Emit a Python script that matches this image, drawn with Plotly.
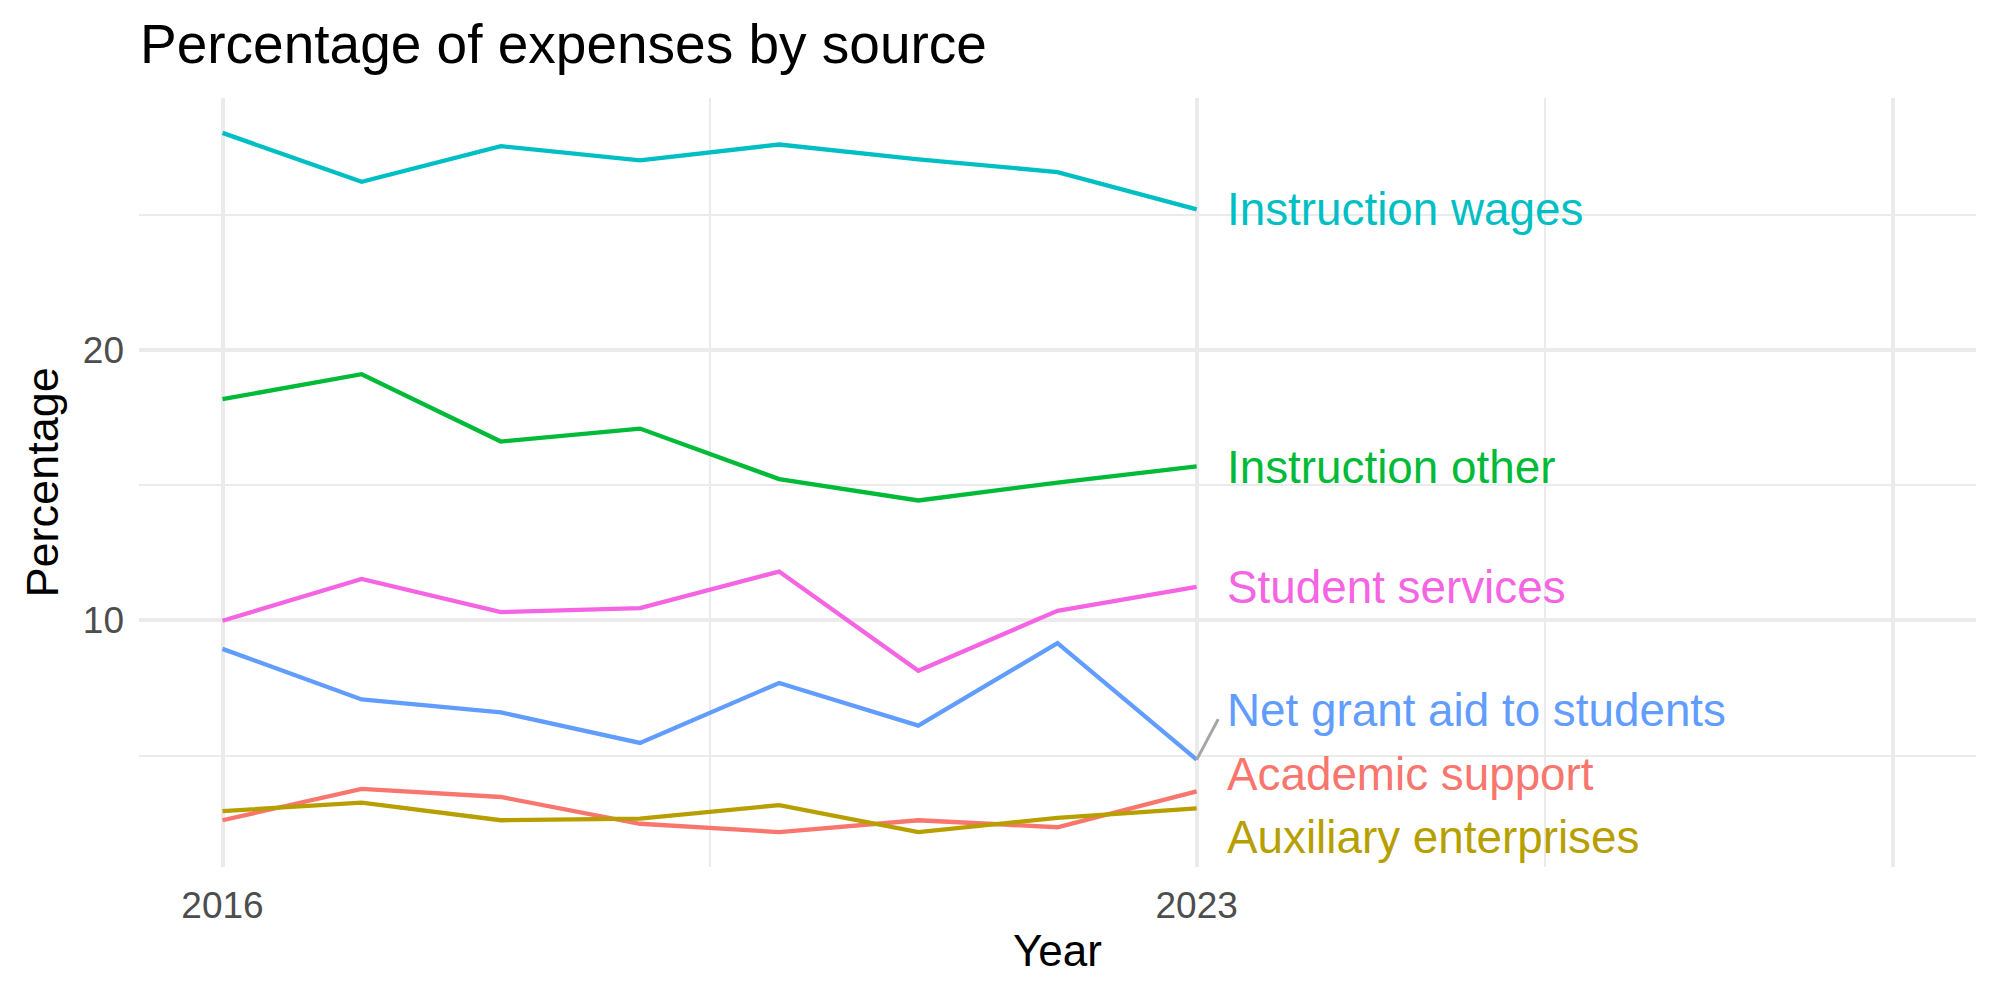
import plotly.graph_objects as go

years = [2016, 2017, 2018, 2019, 2020, 2021, 2022, 2023]

series_names = [
    "Academic support",
    "Auxiliary enterprises",
    "Instruction other",
    "Instruction wages",
    "Net grant aid to students",
    "Student services",
]
academic_support = [2.61, 3.77, 3.47, 2.48, 2.17, 2.61, 2.35, 3.68]
auxiliary_enterprises = [2.95, 3.26, 2.61, 2.67, 3.17, 2.17, 2.70, 3.05]
instruction_other = [18.19, 19.11, 16.62, 17.10, 15.23, 14.44, 15.10, 15.70]
instruction_wages = [28.04, 26.23, 27.55, 27.02, 27.61, 27.06, 26.59, 25.21]
net_grant_aid = [8.95, 7.08, 6.60, 5.47, 7.69, 6.11, 9.16, 4.85]
student_services = [9.99, 11.54, 10.31, 10.46, 11.81, 8.14, 10.36, 11.24]

values = [academic_support, auxiliary_enterprises, instruction_other,
          instruction_wages, net_grant_aid, student_services]

colors = ["#F8766D", "#B79F00", "#00BA38", "#00BFC4", "#619CFF", "#F564E3"]

# label repel offsets (layout, in y units)
label_shift = [0.63, -1.06, -0.05, 0.0, 1.83, -0.03]

x_tickvals = [2016, 2023, 2028]
x_ticktext = ["2016", "2023", ""]
x_minor = [2019.5, 2025.5]
y_tickvals = [10, 20]
y_minor = [5, 15, 25]

FONT = "Liberation Sans, Arial, Helvetica, sans-serif"

fig = go.Figure()
for name, vals, col in zip(series_names, values, colors):
    fig.add_trace(go.Scatter(x=years, y=vals, mode="lines", name=name,
                             line=dict(color=col, width=4.3), showlegend=False))

label_x = years[-1] + 0.2
annotations = []
for name, vals, col, sh in zip(series_names, values, colors, label_shift):
    ly = vals[-1] + sh
    annotations.append(dict(x=label_x, y=ly, xref="x", yref="y", text=name,
                            showarrow=False, xanchor="left", yanchor="middle",
                            font=dict(family=FONT, size=45.8, color=col)))
    if abs(sh) > 1.5:
        fig.add_shape(type="line", xref="x", yref="y",
                      x0=years[-1], y0=vals[-1], x1=years[-1] + 0.155, y1=vals[-1] + sh * 0.82,
                      line=dict(color="#A6A6A6", width=3))

annotations.append(dict(text="Year", x=0.5, y=-0.109, xref="paper", yref="paper",
                        showarrow=False, xanchor="center", yanchor="middle",
                        font=dict(family=FONT, size=44, color="black")))
annotations.append(dict(text="Percentage", x=-0.0523, y=0.5, xref="paper", yref="paper",
                        showarrow=False, xanchor="center", yanchor="middle", textangle=-90,
                        font=dict(family=FONT, size=45, color="black")))

fig.update_layout(
    width=2000, height=1000,
    margin=dict(l=139, r=24, t=98, b=133),
    paper_bgcolor="white", plot_bgcolor="white",
    title=dict(text="Percentage of expenses by source", xref="container", yref="container",
               x=0.07, y=0.956, xanchor="left", yanchor="middle",
               font=dict(family=FONT, size=55, color="black")),
    annotations=annotations,
)
fig.update_xaxes(range=[2015.4, 2028.6], tickvals=x_tickvals, ticktext=x_ticktext,
                 showgrid=True, gridcolor="#EBEBEB", gridwidth=4, zeroline=False,
                 showline=False, ticks="", ticklabelstandoff=13,
                 tickfont=dict(family=FONT, size=37, color="#4D4D4D"),
                 minor=dict(tickvals=x_minor, showgrid=True, gridcolor="#EBEBEB", gridwidth=2))
fig.update_yaxes(range=[0.88, 29.33], tickvals=y_tickvals,
                 showgrid=True, gridcolor="#EBEBEB", gridwidth=4, zeroline=False,
                 showline=False, ticks="", ticklabelstandoff=14,
                 tickfont=dict(family=FONT, size=37, color="#4D4D4D"),
                 minor=dict(tickvals=y_minor, showgrid=True, gridcolor="#EBEBEB", gridwidth=2))

fig.write_html("out.html")
